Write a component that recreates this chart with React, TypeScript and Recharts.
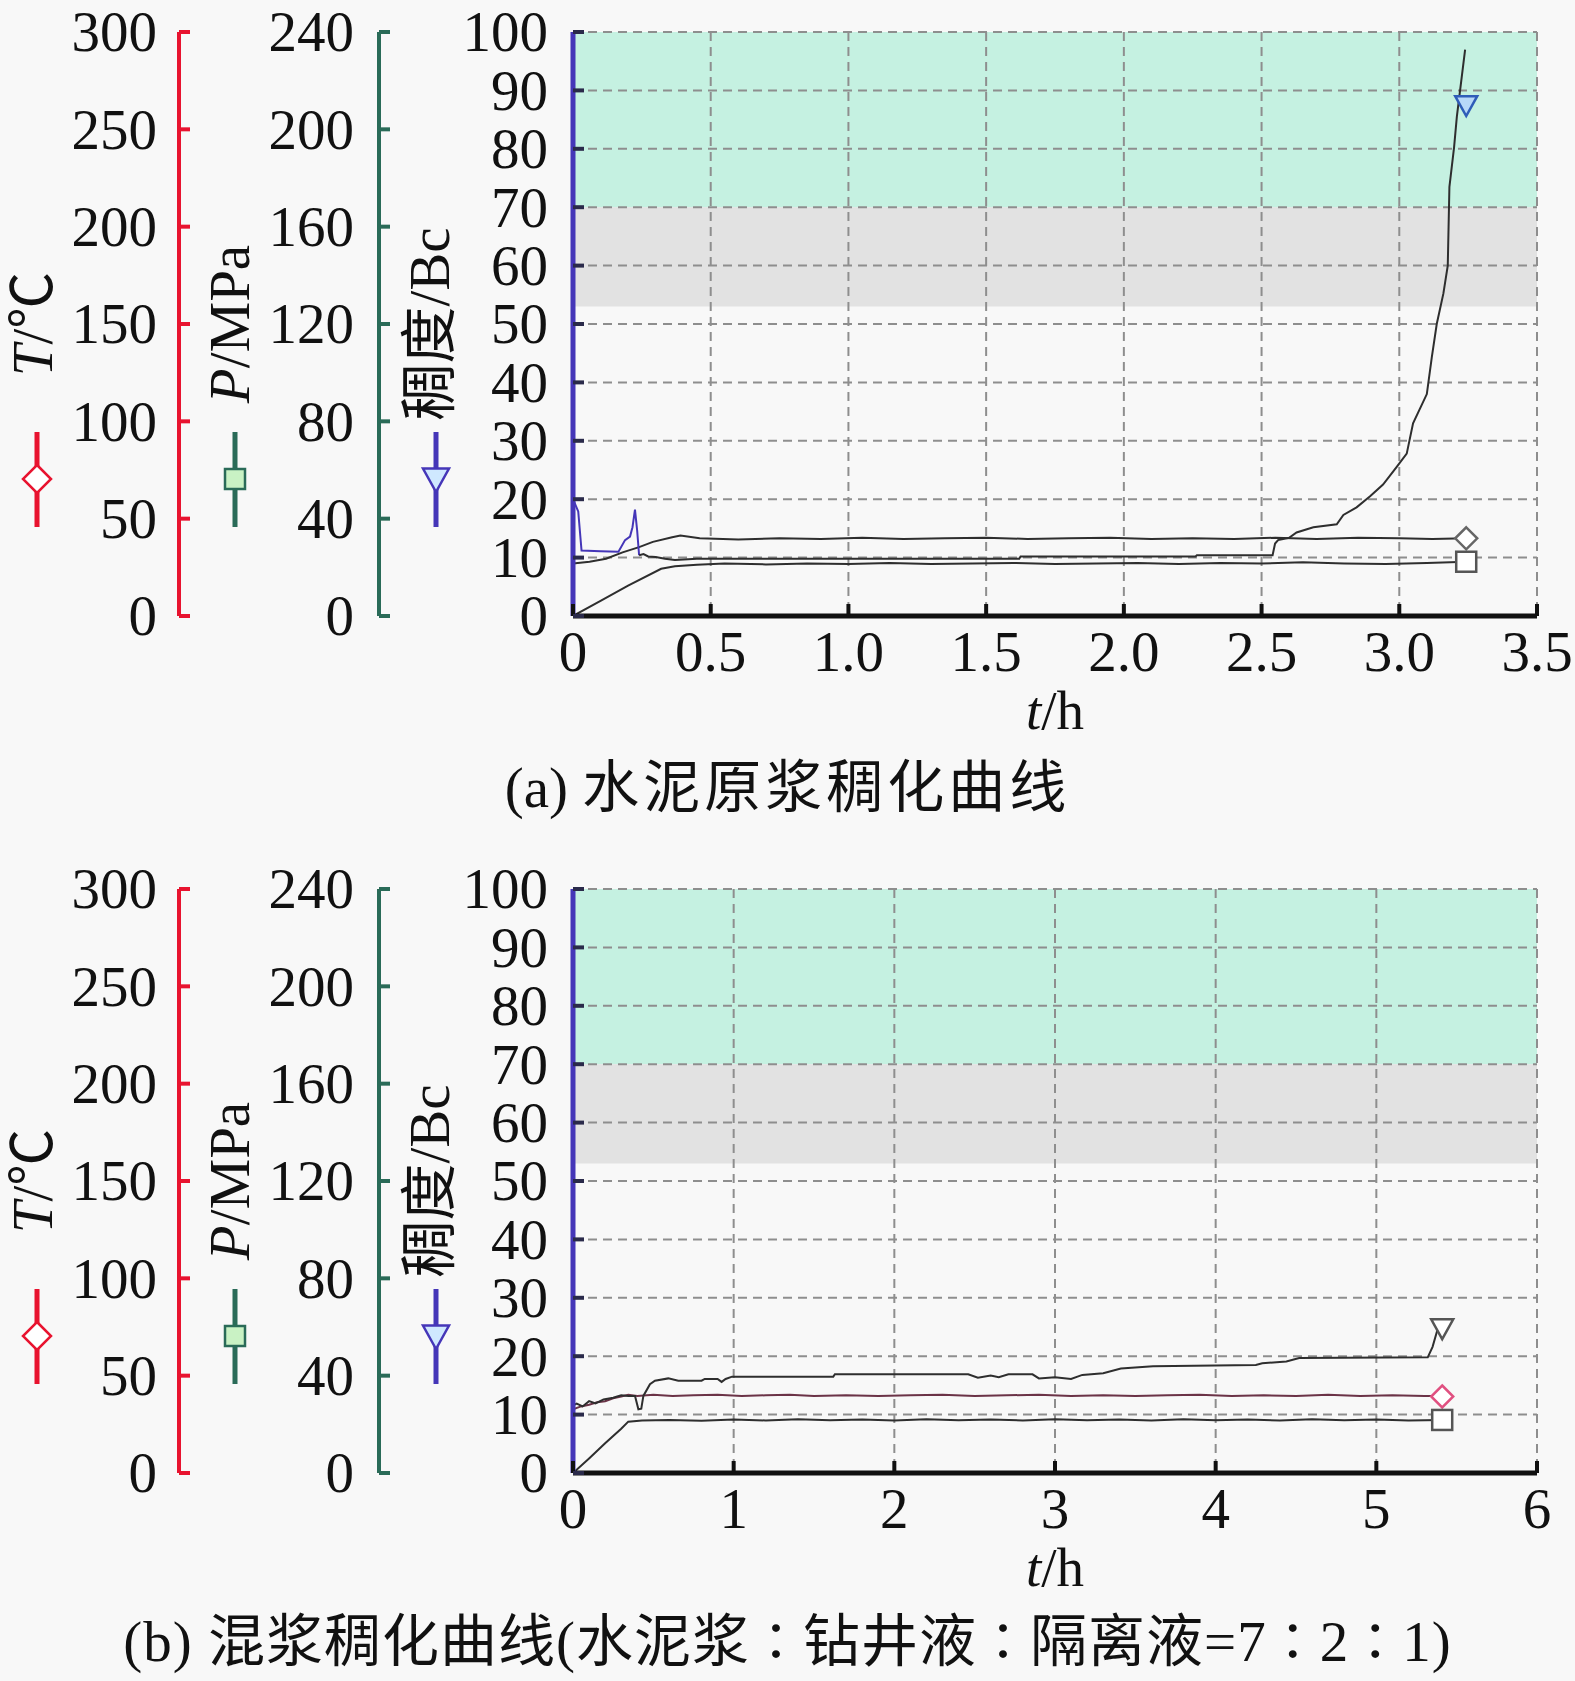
import { ComposedChart, Line, XAxis, YAxis, CartesianGrid, ReferenceArea } from 'recharts';

const SERIF = "'Liberation Serif', 'Times New Roman', 'Noto Sans CJK SC', serif";
const FONT_SIZE = 57;

const RED = '#e8132f';
const GREEN = '#2a6b58';
const BLUE = '#4536b8';
const MINT = '#c5f1e1';
const GREY_BAND = '#e2e2e2';
const BG = '#f8f8f8';
const GRID = '#8e8e8e';
const CURVE = '#2e2e2e';

// axis ticks
const tempTicks = [0, 50, 100, 150, 200, 250, 300];
const presTicks = [0, 40, 80, 120, 160, 200, 240];
const bcTicks = [0, 10, 20, 30, 40, 50, 60, 70, 80, 90, 100];
const timeTicksA = [0, 0.5, 1, 1.5, 2, 2.5, 3, 3.5];
const timeLabelsA = ['0', '0.5', '1.0', '1.5', '2.0', '2.5', '3.0', '3.5'];
const timeTicksB = [0, 1, 2, 3, 4, 5, 6];
const timeLabelsB = ['0', '1', '2', '3', '4', '5', '6'];

// (a) cement slurry: [t/h, value]
const tempA: [number, number][] = [
  [0, 27.0], [0.06, 27.9], [0.12, 29.4], [0.18, 32.7], [0.24, 35.4], [0.29, 38.1], [0.36, 40.5],
  [0.39, 41.4], [0.46, 39.9], [0.6, 39.3], [0.75, 39.9], [0.9, 39.6], [1.05, 40.2], [1.2, 39.6],
  [1.35, 39.9], [1.5, 40.2], [1.65, 39.6], [1.8, 39.9], [1.95, 40.2], [2.1, 39.6], [2.25, 39.9],
  [2.4, 39.6], [2.55, 40.2], [2.7, 39.6], [2.85, 40.2], [3.0, 39.9], [3.12, 39.6], [3.243, 39.9],
];
const presA: [number, number][] = [
  [0, 0], [0.1, 6.2], [0.2, 12.5], [0.32, 19.4], [0.37, 20.4], [0.45, 21.1], [0.55, 21.6],
  [0.7, 21.2], [0.85, 21.6], [1.0, 21.4], [1.15, 21.8], [1.3, 21.4], [1.45, 21.6], [1.6, 21.8],
  [1.75, 21.4], [1.9, 21.6], [2.05, 21.8], [2.2, 21.4], [2.35, 21.8], [2.5, 21.6], [2.65, 22.1],
  [2.8, 21.6], [2.95, 21.4], [3.1, 21.8], [3.243, 22.3],
];
const bcLeadA: [number, number][] = [
  [0, 20.0], [0.019, 17.9], [0.031, 11.2], [0.1, 11.1], [0.165, 11.0], [0.189, 13.0],
  [0.207, 13.6], [0.216, 15.2], [0.225, 18.2], [0.233, 14.6], [0.24, 10.4],
];
const bcA: [number, number][] = [
  [0.24, 10.4], [0.256, 10.6], [0.273, 10.2], [0.3, 10.1], [0.334, 9.8], [0.37, 9.6], [0.45, 9.8],
  [0.7, 9.8], [1.0, 9.8], [1.3, 9.8], [1.62, 9.8], [1.625, 10.2], [2.0, 10.2], [2.26, 10.2],
  [2.265, 10.4], [2.54, 10.4], [2.549, 12.4], [2.56, 13.0], [2.6, 13.4], [2.627, 14.3],
  [2.688, 15.2], [2.773, 15.7], [2.797, 17.3], [2.845, 18.6], [2.894, 20.5], [2.941, 22.5],
  [2.99, 25.5], [3.027, 27.8], [3.05, 33.0], [3.1, 38.0], [3.118, 44.3], [3.136, 50.0],
  [3.16, 55.2], [3.176, 60.0], [3.182, 73.5], [3.199, 80.3], [3.209, 85.5], [3.239, 97.0],
];
const tempMarkA: [number, number][] = [[3.243, 39.9]];
const presMarkA: [number, number][] = [[3.243, 22.3]];
const bcMarkA: [number, number][] = [[3.243, 87.5]];

// (b) mixed slurry 7:2:1
const tempB: [number, number][] = [
  [0, 32.7], [0.05, 34.2], [0.1, 35.1], [0.15, 36.3], [0.2, 36.9], [0.25, 38.4], [0.3, 39.3],
  [0.344, 40.2], [0.4, 39.6], [0.5, 40.2], [0.62, 39.6], [0.75, 39.9], [0.9, 40.2], [1.05, 39.6],
  [1.2, 39.9], [1.35, 40.2], [1.5, 39.6], [1.7, 39.9], [1.9, 39.6], [2.1, 39.9], [2.3, 40.2],
  [2.5, 39.6], [2.7, 39.9], [2.9, 40.2], [3.1, 39.6], [3.3, 39.9], [3.5, 39.6], [3.7, 39.9],
  [3.9, 40.2], [4.1, 39.6], [4.3, 39.9], [4.5, 39.6], [4.7, 40.2], [4.9, 39.6], [5.1, 39.9],
  [5.3, 39.6], [5.41, 39.6],
];
const presB: [number, number][] = [
  [0, 0], [0.1, 6.0], [0.2, 12.2], [0.3, 18.2], [0.344, 21.1], [0.43, 21.6], [0.6, 21.8],
  [0.8, 21.5], [1.0, 22.0], [1.2, 21.6], [1.4, 22.1], [1.6, 21.7], [1.8, 22.0], [2.0, 21.6],
  [2.2, 22.1], [2.4, 21.7], [2.6, 22.0], [2.8, 21.6], [3.0, 22.1], [3.2, 21.7], [3.4, 22.0],
  [3.6, 21.6], [3.8, 22.1], [4.0, 21.7], [4.2, 22.0], [4.4, 21.6], [4.6, 22.1], [4.8, 21.7],
  [5.0, 22.0], [5.2, 21.6], [5.41, 21.8],
];
const bcB: [number, number][] = [
  [0, 11.6], [0.023, 11.9], [0.06, 11.4], [0.1, 12.3], [0.14, 11.9], [0.19, 12.6], [0.25, 12.9],
  [0.3, 13.3], [0.344, 13.2], [0.386, 13.2], [0.407, 10.9], [0.425, 11.0], [0.438, 13.2],
  [0.479, 15.2], [0.51, 15.8], [0.593, 16.2], [0.655, 15.8], [0.8, 15.8], [0.82, 16.1],
  [0.9, 16.1], [0.925, 15.6], [0.95, 16.1], [0.99, 16.5], [1.62, 16.5], [1.63, 16.9],
  [2.46, 16.9], [2.52, 16.3], [2.6, 16.7], [2.65, 16.4], [2.71, 16.9], [2.86, 16.9], [2.9, 16.2],
  [3.0, 16.4], [3.1, 16.1], [3.17, 16.8], [3.3, 17.1], [3.41, 17.9], [3.61, 18.3], [4.25, 18.5],
  [4.29, 18.8], [4.44, 19.1], [4.52, 19.7], [5.32, 19.8], [5.35, 21.6], [5.38, 24.5],
];
const tempMarkB: [number, number][] = [[5.41, 39.3]];
const presMarkB: [number, number][] = [[5.41, 21.8]];
const bcMarkB: [number, number][] = [[5.41, 24.8]];

const toPts = (pairs: [number, number][]) => pairs.map(([t, v]) => ({ t, v }));

function diamond(cx: number, cy: number, r: number, stroke: string, fill: string, key?: string) {
  return (
    <path key={key} d={`M${cx},${cy - r}L${cx + r},${cy}L${cx},${cy + r}L${cx - r},${cy}Z`}
      stroke={stroke} strokeWidth={2.5} fill={fill} />
  );
}
function square(cx: number, cy: number, r: number, stroke: string, fill: string, key?: string) {
  return <rect key={key} x={cx - r} y={cy - r} width={2 * r} height={2 * r} stroke={stroke} strokeWidth={2.5} fill={fill} />;
}
function triangle(cx: number, cy: number, r: number, stroke: string, fill: string, key?: string) {
  return (
    <path key={key} d={`M${cx - r},${cy - r * 0.8}L${cx + r},${cy - r * 0.8}L${cx},${cy + r}Z`}
      stroke={stroke} strokeWidth={2.5} fill={fill} />
  );
}

function YTick(props: any) {
  const { x, y, payload, gap, color } = props;
  return (
    <g>
      <line x1={x + gap} x2={x + gap + 11} y1={y} y2={y} stroke={color} strokeWidth={4} />
      <text x={x} y={y} dy="0.34em" textAnchor="end" fontFamily={SERIF} fontSize={FONT_SIZE} fill="#111">
        {payload.value}
      </text>
    </g>
  );
}

function XTick(props: any) {
  const { x, y, payload, ticks, labels } = props;
  const i = ticks.indexOf(payload.value);
  return (
    <g>
      <line x1={x} x2={x} y1={y} y2={y - 12} stroke="#111" strokeWidth={4} />
      <text x={x} y={y + 55} textAnchor="middle" fontFamily={SERIF} fontSize={FONT_SIZE} fill="#111">
        {labels[i]}
      </text>
    </g>
  );
}

function XTitle({ viewBox }: any) {
  const vb = viewBox ?? { x: 573, y: 616, width: 964, height: 124 };
  return (
    <text x={vb.x + vb.width / 2} y={vb.y + 113} textAnchor="middle" fontFamily={SERIF} fontSize={55} fill="#111">
      <tspan fontStyle="italic">t</tspan>/h
    </text>
  );
}

function AxisTitle({ viewBox, kind }: any) {
  const vb = viewBox ?? { x: 0, y: 32, width: 179, height: 584 };
  const cy = vb.y + vb.height / 2;
  let cx = vb.x + 32;
  let ix = vb.x + 37;
  let body: any = null;
  let icon: any = null;
  let color = RED;
  if (kind === 'temp') {
    body = (<><tspan fontStyle="italic">T</tspan>/℃</>);
    icon = diamond(ix, vb.y + 447, 14, RED, '#ffffff');
  } else if (kind === 'pres') {
    cx = vb.x + 50;
    ix = vb.x + 56;
    color = GREEN;
    body = (<><tspan fontStyle="italic">P</tspan>/MPa</>);
    icon = square(ix, vb.y + 447, 10, GREEN, '#c9f2c4');
  } else {
    cx = vb.x + 50;
    ix = vb.x + 57;
    color = BLUE;
    body = '稠度/Bc';
    icon = triangle(ix, vb.y + 447, 13, BLUE, '#cfe8ff');
  }
  return (
    <g>
      <text x={cx} y={cy} transform={`rotate(-90 ${cx} ${cy})`} textAnchor="middle" dominantBaseline="central"
        fontFamily={SERIF} fontSize={FONT_SIZE} fill="#111">
        {body}
      </text>
      <line x1={ix} x2={ix} y1={vb.y + 400} y2={vb.y + 495} stroke={color} strokeWidth={5} />
      {icon}
    </g>
  );
}

function Colon() {
  return <span style={{ fontFamily: "'Noto Sans CJK JP', sans-serif", fontSize: 52 }}>：</span>;
}

function Panel(p: any) {
  return (
    <div style={{ position: 'absolute', left: 0, top: p.top, width: 1575, height: 820 }}>
      <ComposedChart width={1575} height={760} margin={{ top: 32, right: 38, bottom: 20, left: 0 }}>
        <ReferenceArea yAxisId="bc" y1={70} y2={100} fill={MINT} fillOpacity={1} stroke="none" zIndex={-200} />
        <ReferenceArea yAxisId="bc" y1={53} y2={70} fill={GREY_BAND} fillOpacity={1} stroke="none" zIndex={-200} />
        <CartesianGrid yAxisId="bc" stroke={GRID} strokeDasharray="9 6" strokeWidth={2} />
        <XAxis
          type="number"
          dataKey="t"
          domain={[0, p.xMax]}
          ticks={p.xTicks}
          interval={0}
          height={124}
          tickSize={0}
          tickMargin={0}
          tickLine={false}
          allowDataOverflow
          axisLine={{ stroke: '#111', strokeWidth: 5 }}
          tick={<XTick ticks={p.xTicks} labels={p.xLabels} />}
          label={(lp: any) => <XTitle viewBox={lp.viewBox} />}
        />
        <YAxis
          yAxisId="bc"
          type="number"
          domain={[0, 100]}
          ticks={bcTicks}
          interval={0}
          width={194}
          tickSize={0}
          tickMargin={25}
          tickLine={false}
          allowDataOverflow
          axisLine={{ stroke: BLUE, strokeWidth: 5 }}
          tick={<YTick gap={25} color="#2a2a4a" />}
          label={(lp: any) => <AxisTitle viewBox={lp.viewBox} kind="bc" />}
        />
        <YAxis
          yAxisId="pres"
          type="number"
          domain={[0, 240]}
          ticks={presTicks}
          interval={0}
          width={200}
          tickSize={0}
          tickMargin={25}
          tickLine={false}
          allowDataOverflow
          axisLine={{ stroke: GREEN, strokeWidth: 4 }}
          tick={<YTick gap={25} color={GREEN} />}
          label={(lp: any) => <AxisTitle viewBox={lp.viewBox} kind="pres" />}
        />
        <YAxis
          yAxisId="temp"
          type="number"
          domain={[0, 300]}
          ticks={tempTicks}
          interval={0}
          width={179}
          tickSize={0}
          tickMargin={22}
          tickLine={false}
          allowDataOverflow
          axisLine={{ stroke: RED, strokeWidth: 4 }}
          tick={<YTick gap={22} color={RED} />}
          label={(lp: any) => <AxisTitle viewBox={lp.viewBox} kind="temp" />}
        />
        <Line yAxisId="pres" data={toPts(p.pres)} dataKey="v" type="linear" stroke={CURVE} strokeWidth={2}
          dot={false} activeDot={false} isAnimationActive={false} />
        <Line yAxisId="temp" data={toPts(p.temp)} dataKey="v" type="linear" stroke={p.tempColor} strokeWidth={2}
          dot={false} activeDot={false} isAnimationActive={false} />
        {p.bcLead && (
          <Line yAxisId="bc" data={toPts(p.bcLead)} dataKey="v" type="linear" stroke={BLUE} strokeWidth={2}
            dot={false} activeDot={false} isAnimationActive={false} />
        )}
        <Line yAxisId="bc" data={toPts(p.bc)} dataKey="v" type="linear" stroke={CURVE} strokeWidth={2}
          dot={false} activeDot={false} isAnimationActive={false} />
        <Line yAxisId="temp" data={toPts(p.tempMark)} dataKey="v" stroke="none" activeDot={false} isAnimationActive={false}
          dot={(d: any) => diamond(d.cx, d.cy, 11, p.diamondStroke, '#ffffff', `dm${d.index}`)} />
        <Line yAxisId="pres" data={toPts(p.presMark)} dataKey="v" stroke="none" activeDot={false} isAnimationActive={false}
          dot={(d: any) => square(d.cx, d.cy, 10, '#555555', '#ffffff', `sq${d.index}`)} />
        <Line yAxisId="bc" data={toPts(p.bcMark)} dataKey="v" stroke="none" activeDot={false} isAnimationActive={false}
          dot={(d: any) => triangle(d.cx, d.cy, 11, p.triStroke, p.triFill, `tr${d.index}`)} />
      </ComposedChart>
      <div
        style={{
          position: 'absolute',
          left: 0,
          top: p.captionTop,
          width: 1575,
          textAlign: 'center',
          fontFamily: SERIF,
          fontSize: FONT_SIZE,
          lineHeight: '60px',
          color: '#111',
          whiteSpace: 'nowrap',
        }}
      >
        {p.caption}
      </div>
    </div>
  );
}

export default function App() {
  return (
    <div style={{ position: 'relative', width: 1575, height: 1681, background: BG, overflow: 'hidden' }}>
      <style>{`body{margin:0;background:${BG};}`}</style>
      <Panel
        top={0}
        captionTop={758}
        caption={<>(a) <span style={{ letterSpacing: 4 }}>水泥原浆稠化曲线</span></>}
        xMax={3.5}
        xTicks={timeTicksA}
        xLabels={timeLabelsA}
        temp={tempA}
        pres={presA}
        bcLead={bcLeadA}
        bc={bcA}
        tempMark={tempMarkA}
        presMark={presMarkA}
        bcMark={bcMarkA}
        tempColor={CURVE}
        diamondStroke="#666666"
        triStroke="#2f5db8"
        triFill="#b8d8f8"
      />
      <Panel
        top={857}
        captionTop={752}
        caption={
          <span style={{ letterSpacing: 1 }}>
            (b) 混浆稠化曲线(水泥浆<Colon />钻井液<Colon />隔离液=7<Colon />2<Colon />1)
          </span>
        }
        xMax={6}
        xTicks={timeTicksB}
        xLabels={timeLabelsB}
        temp={tempB}
        pres={presB}
        bc={bcB}
        tempMark={tempMarkB}
        presMark={presMarkB}
        bcMark={bcMarkB}
        tempColor="#6b3347"
        diamondStroke="#e05080"
        triStroke="#555555"
        triFill="#ffffff"
      />
    </div>
  );
}
